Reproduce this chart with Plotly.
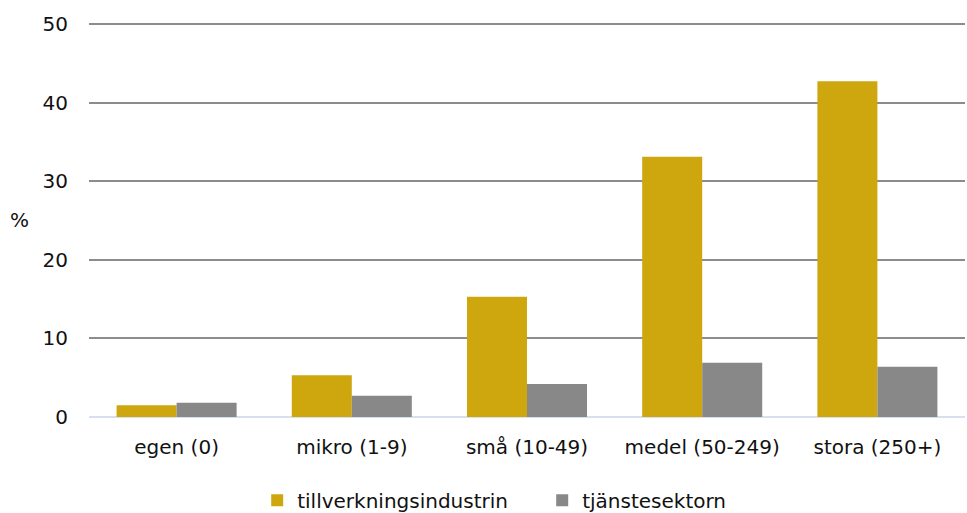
import plotly.graph_objects as go

# Andel företag per storleksklass (%)
categories = ["egen (0)", "mikro (1-9)", "små (10-49)", "medel (50-249)", "stora (250+)"]
tillverkning = [1.5, 5.3, 15.3, 33.1, 42.7]
tjanste = [1.8, 2.7, 4.2, 6.9, 6.4]
series_names = ["tillverkningsindustrin", "tjänstesektorn"]
y_ticks = [0, 10, 20, 30, 40, 50]

FONT = "DejaVu Sans"
FS = 20

fig = go.Figure()
fig.add_trace(go.Bar(x=categories, y=tillverkning, name=series_names[0],
                     marker=dict(color="#CEA60E", line=dict(width=0))))
fig.add_trace(go.Bar(x=categories, y=tjanste, name=series_names[1],
                     marker=dict(color="#888888", line=dict(width=0))))

fig.update_layout(
    width=967, height=513,
    margin=dict(l=89, r=2, t=20, b=96, autoexpand=False),
    paper_bgcolor="white", plot_bgcolor="white",
    barmode="group", bargap=0.315, bargroupgap=0,
    font=dict(family=FONT, size=FS, color="#111111"),
    showlegend=True,
    legend=dict(orientation="h", x=0.192, xanchor="left",
                yref="container", y=0.025, yanchor="middle",
                font=dict(size=FS), entrywidth=240, entrywidthmode="pixels",
                itemwidth=30, traceorder="normal"),
    xaxis=dict(showgrid=False, showline=False, ticks="", ticklabelstandoff=16,
               tickfont=dict(size=FS)),
    yaxis=dict(range=[0, 50.5], tickvals=y_ticks, showgrid=True, gridcolor="#8C8C8C",
               gridwidth=2, zeroline=True, zerolinecolor="#D6E0EF", zerolinewidth=2,
               showline=False, ticks="", ticklabelstandoff=20, tickfont=dict(size=FS)),
    annotations=[dict(text="%", xref="paper", yref="paper", x=-0.066, y=0.495,
                      xanchor="right", yanchor="middle", showarrow=False,
                      font=dict(size=FS))],
)

fig.write_html("out.html")
